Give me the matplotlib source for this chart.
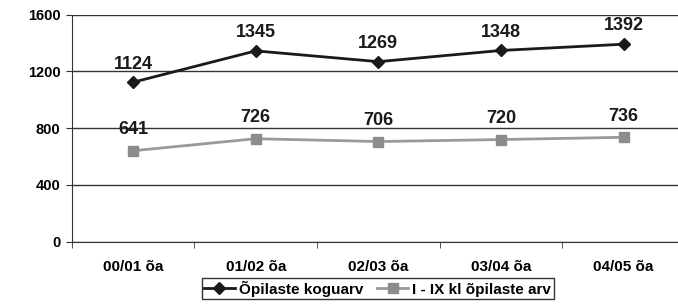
import matplotlib.pyplot as plt

plt.rcParams['font.family'] = ['Liberation Sans', 'DejaVu Sans']
plt.rcParams['font.weight'] = 'bold'

years = ["00/01 õa", "01/02 õa", "02/03 õa", "03/04 õa", "04/05 õa"]
total = [1124, 1345, 1269, 1348, 1392]
grades = [641, 726, 706, 720, 736]

fig = plt.figure(figsize=(6.78, 3.05), dpi=100)
ax = fig.add_axes([0.1058, 0.2075, 0.9045, 0.7443])

x = range(len(years))
ax.plot(x, total, color="#1a1a1a", lw=2, marker="D", ms=6, label="Õpilaste koguarv")
ax.plot(x, grades, color="#999999", lw=2, marker="s", ms=7, mfc="#8c8c8c", mec="#8c8c8c",
        label="I - IX kl õpilaste arv")

for xi, v in zip(x, total):
    ax.annotate(str(v), (xi, v), xytext=(0, 7), textcoords="offset points",
                ha="center", va="bottom", fontsize=13, fontweight="bold", color="#1a1a1a")
for xi, v in zip(x, grades):
    ax.annotate(str(v), (xi, v), xytext=(0, 9), textcoords="offset points",
                ha="center", va="bottom", fontsize=13, fontweight="bold", color="#1a1a1a")

ax.set_xlim(-0.5, 4.5)
ax.set_ylim(0, 1600)
ax.set_yticks([0, 400, 800, 1200, 1600])
ax.set_xticks(list(x))
ax.set_xticklabels(years, fontsize=11, fontweight="bold")
ax.set_xticks([i + 0.5 for i in range(-1, 5)], minor=True)
ax.tick_params(axis="x", which="major", length=0, pad=13)
ax.tick_params(axis="x", which="minor", length=4, direction="out", color="#333333")
ax.tick_params(axis="y", length=4, labelsize=10.5, color="#333333", pad=4)
for lab in ax.get_yticklabels():
    lab.set_fontweight("bold")

ax.grid(axis="y", color="#333333", lw=1)
ax.set_axisbelow(True)
for s in ["top", "right"]:
    ax.spines[s].set_visible(False)
ax.spines["left"].set_color("#333333")
ax.spines["bottom"].set_color("#333333")

leg = fig.legend(loc="lower center", bbox_to_anchor=(0.557, -0.005), ncol=2,
                 frameon=True, fancybox=False, edgecolor="black", handlelength=2.0,
                 handletextpad=0.3, columnspacing=0.9, borderpad=0.15,
                 prop={"weight": "bold", "size": 11})
leg.get_frame().set_linewidth(1)

fig.savefig("out.png", dpi=100)
